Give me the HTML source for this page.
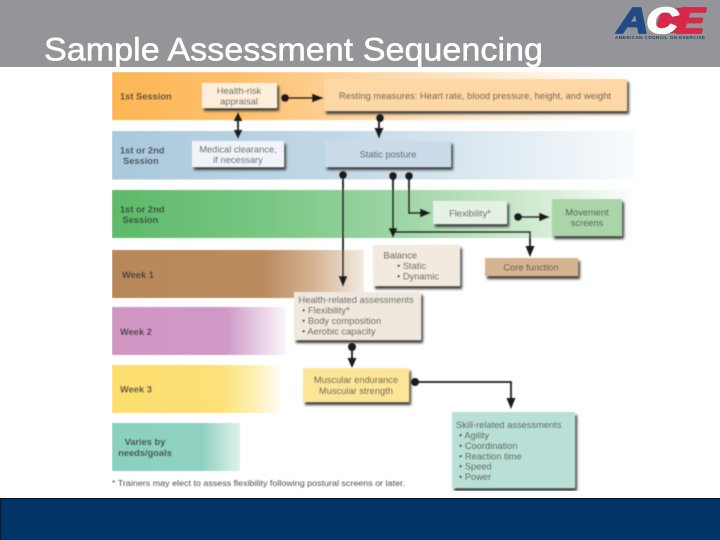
<!DOCTYPE html>
<html><head><meta charset="utf-8"><style>
html,body{margin:0;padding:0;background:#fff;width:720px;height:540px;overflow:hidden}
svg{display:block}
text{font-family:"Liberation Sans",sans-serif}
.l{font-size:9.3px;font-weight:bold;fill:#3d3d3d}
.t{font-size:9.3px;fill:#4d4d4d}
.c{text-anchor:middle}
</style></head><body>
<svg width="720" height="540" viewBox="0 0 720 540" xmlns="http://www.w3.org/2000/svg">
<defs>
<linearGradient id="g1"><stop offset="0" stop-color="#fcb654"/><stop offset=".25" stop-color="#fdc06c"/><stop offset=".5" stop-color="#fdd7a6"/><stop offset=".8" stop-color="#fef1df"/><stop offset="1" stop-color="#fff"/></linearGradient>
<linearGradient id="g2"><stop offset="0" stop-color="#a9c9dc"/><stop offset=".4" stop-color="#bfd6e5"/><stop offset=".75" stop-color="#e0ebf3"/><stop offset="1" stop-color="#f8fbfd"/></linearGradient>
<linearGradient id="g3"><stop offset="0" stop-color="#5dba68"/><stop offset=".3" stop-color="#79c784"/><stop offset=".55" stop-color="#9dd5a4"/><stop offset=".85" stop-color="#d8eed8"/><stop offset="1" stop-color="#fbfdfb"/></linearGradient>
<linearGradient id="g4"><stop offset="0" stop-color="#b9885a"/><stop offset=".6" stop-color="#bb8b5e"/><stop offset=".8" stop-color="#d4b393"/><stop offset="1" stop-color="#f3ebe2"/></linearGradient>
<linearGradient id="g5"><stop offset="0" stop-color="#cf96c4"/><stop offset=".66" stop-color="#d09ac6"/><stop offset=".85" stop-color="#e8cfe4"/><stop offset="1" stop-color="#fbf5fa"/></linearGradient>
<linearGradient id="g6"><stop offset="0" stop-color="#fddf6e"/><stop offset=".65" stop-color="#fde177"/><stop offset=".85" stop-color="#feefb4"/><stop offset="1" stop-color="#fffdf4"/></linearGradient>
<linearGradient id="g7"><stop offset="0" stop-color="#8bd0bf"/><stop offset=".7" stop-color="#8fd1c1"/><stop offset="1" stop-color="#dff2ec"/></linearGradient>
<filter id="s" x="-10%" y="-20%" width="120%" height="150%"><feGaussianBlur stdDeviation="1.300"/></filter>
<filter id="b" x="0" y="0" width="100%" height="100%"><feGaussianBlur stdDeviation="0.5"/></filter>
</defs>

<rect x="0" y="0" width="720" height="67" fill="#939598"/>
<text x="44" y="60.500" font-size="32" fill="#fff" stroke="#fff" stroke-width=".5" textLength="499" lengthAdjust="spacingAndGlyphs">Sample Assessment Sequencing</text>

<polygon points="662,9 692,7 684,33 654,33" fill="#d9274a"/>
<g transform="translate(617,33) scale(1.22,1)" stroke-width="1.8" stroke-linejoin="round">
<text x="0" y="0" font-size="36" font-weight="bold" font-style="italic"><tspan fill="#1f4a86" stroke="#1f4a86">A</tspan><tspan fill="#fff" stroke="#fff" dx="-2">C</tspan><tspan fill="#d9274a" stroke="#d9274a" dx="-2">E</tspan></text>
</g>
<text x="615" y="39" font-size="4.600" font-weight="bold" fill="#2b3f66" textLength="90">AMERICAN COUNCIL ON EXERCISE</text>

<g filter="url(#b)">
<rect x="112" y="72" width="520" height="48" fill="url(#g1)"/>
<rect x="112" y="131" width="522" height="48.500" fill="url(#g2)"/>
<rect x="112" y="190" width="520" height="48" fill="url(#g3)"/>
<rect x="112" y="250" width="252" height="48" fill="url(#g4)"/>
<rect x="112" y="307" width="174" height="48" fill="url(#g5)"/>
<rect x="112" y="365" width="168" height="48" fill="url(#g6)"/>
<rect x="112" y="423" width="128" height="48" fill="url(#g7)"/>

<g fill="#3a3a3a" filter="url(#s)">
<rect x="204" y="86" width="75" height="25"/>
<rect x="326" y="82" width="303" height="32"/>
<rect x="194" y="144" width="92" height="26"/>
<rect x="327" y="144" width="126" height="26"/>
<rect x="435" y="204" width="74" height="23"/>
<rect x="554" y="202" width="70" height="37"/>
<rect x="375" y="248" width="87" height="41"/>
<rect x="487" y="261" width="93" height="18"/>
<rect x="296" y="295" width="127" height="48"/>
<rect x="305" y="371" width="106" height="34"/>
<rect x="454" y="415" width="123" height="76"/>
</g>
<rect x="202" y="83" width="75" height="25" fill="#fdeed9"/>
<rect x="324" y="79" width="303" height="32" fill="#fdd7a4"/>
<rect x="192" y="141" width="92" height="26" fill="#f0f4f9"/>
<rect x="325" y="141" width="126" height="26" fill="#c9dbe9"/>
<rect x="433" y="201" width="74" height="23" fill="#e4f1e3"/>
<rect x="552" y="199" width="70" height="37" fill="#abd4a8"/>
<rect x="373" y="245" width="87" height="41" fill="#f2e9df"/>
<rect x="485" y="258" width="93" height="18" fill="#d5b58f"/>
<rect x="294" y="292" width="127" height="48" fill="#f0e8de"/>
<rect x="303" y="368" width="106" height="34" fill="#fde597"/>
<rect x="452" y="412" width="123" height="76" fill="#b9e0d6"/>

<g stroke="#1e1e1e" stroke-width="1.800" fill="none">
<path d="M285 98H314"/><path d="M238 118V133"/><path d="M379 118V131"/>
<path d="M343 175V279"/><path d="M393 176V230"/><path d="M393 232H530V247"/>
<path d="M409 176V213H422"/><path d="M518 217H541"/><path d="M352 347V360"/>
<path d="M415 382H511V400"/>
</g>
<g fill="#1e1e1e">
<circle cx="285" cy="98" r="4"/><circle cx="380" cy="118" r="4"/><circle cx="343" cy="175" r="4"/>
<circle cx="393" cy="176" r="4"/><circle cx="409" cy="176" r="4"/><circle cx="518" cy="217" r="4"/>
<circle cx="352" cy="347" r="4"/><circle cx="415" cy="382" r="4"/>
<path d="M324 98L312 93.500V102.500Z"/>
<path d="M238 112L233.500 121H242.500Z"/><path d="M238 139L233.500 130H242.500Z"/>
<path d="M379 139L374.500 128H383.500Z"/>
<path d="M343 287L338.500 276H347.500Z"/>
<path d="M393 238L388.500 228H397.500Z"/>
<path d="M530 257L525.500 246H534.500Z"/>
<path d="M431 213L420 208.500V217.500Z"/>
<path d="M550 217L539 212.500V221.500Z"/>
<path d="M352 368L347.500 358H356.500Z"/>
<path d="M511 409L506.500 398H515.500Z"/>
</g>

<text class="l" x="120" y="99.500">1st Session</text>
<text class="l" x="120" y="153.500">1st or 2nd</text><text class="l" x="123" y="164">Session</text>
<text class="l" x="120" y="212.500">1st or 2nd</text><text class="l" x="122.500" y="223">Session</text>
<text class="l" x="122" y="278">Week 1</text>
<text class="l" x="120" y="335">Week 2</text>
<text class="l" x="120" y="392.500">Week 3</text>
<text class="l c" x="145" y="445">Varies by</text><text class="l c" x="145" y="456">needs/goals</text>

<text class="t c" x="239" y="94">Health-risk</text><text class="t c" x="239" y="104.500">appraisal</text>
<text class="t" x="339" y="99" textLength="272">Resting measures: Heart rate, blood pressure, height, and weight</text>
<text class="t c" x="238" y="152.500">Medical clearance,</text><text class="t c" x="238" y="163">if necessary</text>
<text class="t c" x="388" y="157.500">Static posture</text>
<text class="t c" x="470" y="216.500">Flexibility*</text>
<text class="t c" x="587" y="215.500">Movement</text><text class="t c" x="587" y="226">screens</text>
<text class="t" x="383.500" y="258.500">Balance</text>
<text class="t" x="397" y="269">• Static</text><text class="t" x="397" y="279.500">• Dynamic</text>
<text class="t c" x="531" y="270.500">Core function</text>
<text class="t" x="298.500" y="303">Health-related assessments</text>
<text class="t" x="302" y="313.500">• Flexibility*</text><text class="t" x="302" y="324">• Body composition</text><text class="t" x="302" y="334.500">• Aerobic capacity</text>
<text class="t c" x="356" y="383">Muscular endurance</text><text class="t c" x="356" y="394">Muscular strength</text>
<text class="t" x="456" y="428">Skill-related assessments</text>
<text class="t" x="459" y="438.500">• Agility</text><text class="t" x="459" y="449">• Coordination</text><text class="t" x="459" y="459.500">• Reaction time</text><text class="t" x="459" y="469.500">• Speed</text><text class="t" x="459" y="480">• Power</text>
<text x="112" y="486" font-size="7.800" fill="#4d4d4d" textLength="293" lengthAdjust="spacingAndGlyphs">* Trainers may elect to assess flexibility following postural screens or later.</text>
</g>

<rect x="0" y="498" width="720" height="42" fill="#003366"/>
<rect x="0" y="498" width="720" height="1" fill="#0a1526"/>
<rect x="0" y="498" width="1" height="42" fill="#0a1526"/>
</svg>
</body></html>
